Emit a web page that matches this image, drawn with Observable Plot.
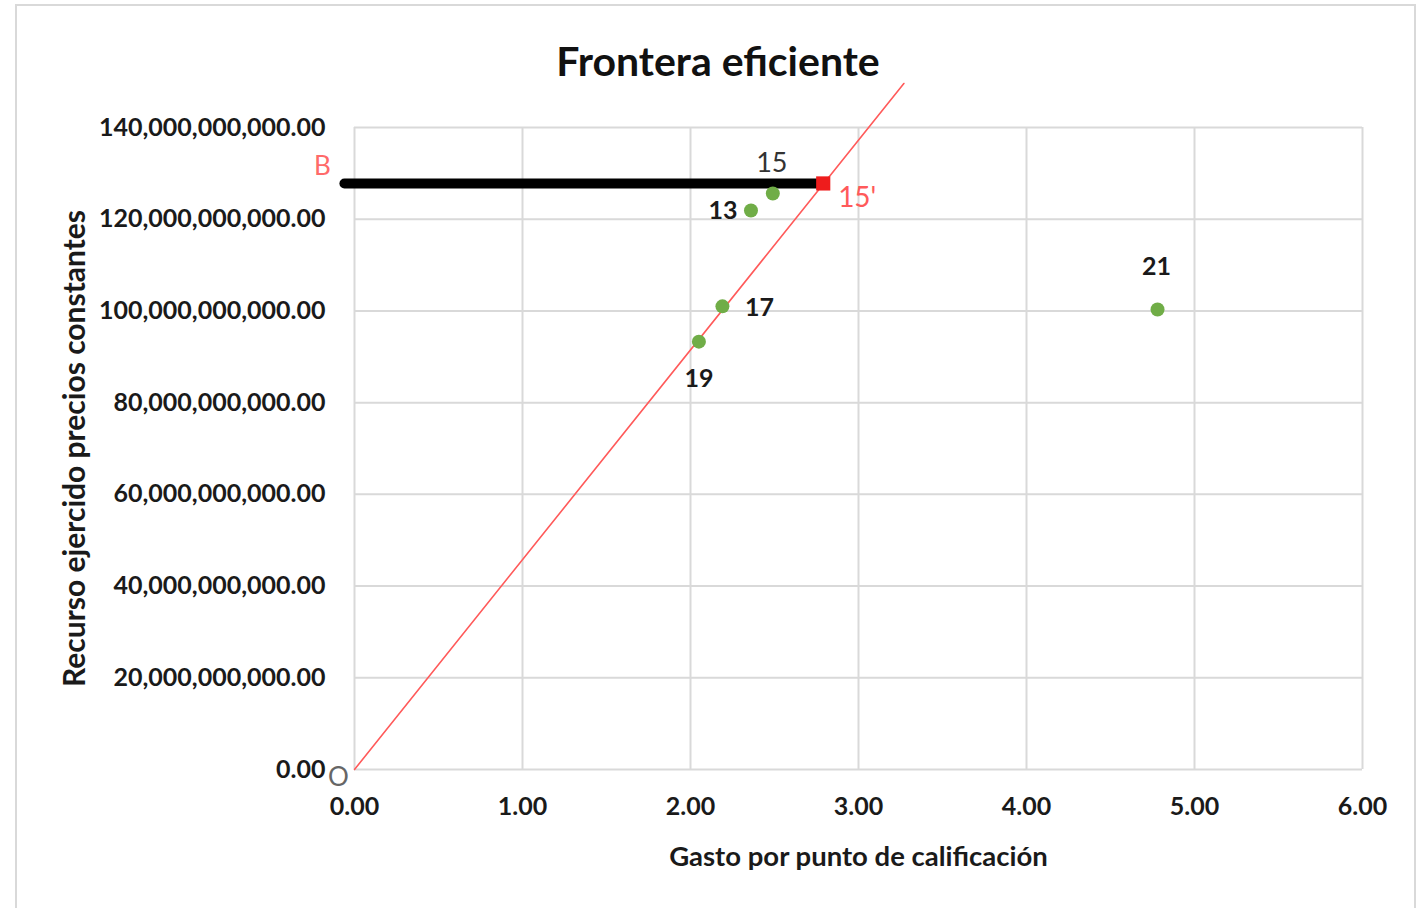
<!DOCTYPE html>
<html>
<head>
<meta charset="utf-8">
<script src="https://cdn.jsdelivr.net/npm/d3@7"></script>
<script src="https://cdn.jsdelivr.net/npm/@observablehq/plot@0.6"></script>
<style>
  html, body { margin: 0; padding: 0; background: #fff; }
  #wrap { position: relative; width: 1421px; height: 908px; overflow: hidden; font-family: Lato, "Open Sans", sans-serif; }
  #border { position: absolute; left: 15px; top: 4px; width: 1401px; height: 920px; border: 2px solid #d9d9d9; box-sizing: border-box; }
  #title { position: absolute; left: 0; width: 1436px; top: 40px; text-align: center; font-size: 41px; font-weight: bold; color: #111; line-height: 1; }
  #chart { position: absolute; left: 0; top: 0; }
  svg { overflow: visible; }
</style>
</head>
<body>
<div id="wrap">
  <div id="border"></div>
  <div id="chart"></div>
  <div id="title">Frontera eficiente</div>
</div>
<script>
// Data
const labels = ["15", "13", "17", "19", "21"];
const gasto = [2.49, 2.36, 2.19, 2.05, 4.78];
const recurso = [125.6e9, 121.9e9, 101.0e9, 93.3e9, 100.3e9];

// Projected point 15' and segment B
const proyLabel = "15'";
const proyGasto = 2.79;
const proyRecurso = 127.8e9;
const bStartGasto = -0.06;

// Efficient frontier ray from origin
const fronteraGasto = [0, 3.27];
const fronteraRecurso = [0, 149.6e9];

const xTicks = [0, 1, 2, 3, 4, 5, 6];
const yTicks = [0, 20e9, 40e9, 60e9, 80e9, 100e9, 120e9, 140e9];

const xLabel = "Gasto por punto de calificación";
const yLabel = "Recurso ejercido precios constantes";

// Build tables
const puntos = labels.map((l, i) => ({label: l, x: gasto[i], y: recurso[i]}));
const frontera = fronteraGasto.map((x, i) => ({x, y: fronteraRecurso[i]}));
const segB = [{x: bStartGasto, y: proyRecurso}, {x: proyGasto, y: proyRecurso}];
const proy = [{x: proyGasto, y: proyRecurso, label: proyLabel}];

const labelStyle = {
  "15": {dx: -1, dy: -30, fill: "#333", fontWeight: "normal", fontSize: 27},
  "13": {dx: -28, dy: 0, fill: "#1a1a1a", fontWeight: "bold", fontSize: 25},
  "17": {dx: 37, dy: 2, fill: "#1a1a1a", fontWeight: "bold", fontSize: 25},
  "19": {dx: 0, dy: 37, fill: "#1a1a1a", fontWeight: "bold", fontSize: 25},
  "21": {dx: -1, dy: -43, fill: "#1a1a1a", fontWeight: "bold", fontSize: 25}
};

const fmtY = d3.format(",.2f");
const fmtX = d3.format(".2f");

const pointLabelMarks = labels.map(l =>
  Plot.text(puntos.filter(d => d.label === l), {x: "x", y: "y", text: "label", ...labelStyle[l]})
);

const chart = Plot.plot({
  width: 1421,
  height: 908,
  marginLeft: 354,
  marginRight: 59,
  marginTop: 127,
  marginBottom: 139,
  style: {fontFamily: "Lato, 'Open Sans', sans-serif", fontSize: "25px", color: "#1a1a1a", background: "transparent"},
  x: {domain: [0, 6]},
  y: {domain: [0, 140e9]},
  marks: [
    Plot.gridX(xTicks, {stroke: "#d9d9d9", strokeOpacity: 1, strokeWidth: 2}),
    Plot.gridY(yTicks, {stroke: "#d9d9d9", strokeOpacity: 1, strokeWidth: 2}),
    Plot.axisX(xTicks, {tickSize: 0, tickPadding: 28, tickFormat: fmtX, fontWeight: "bold", label: null}),
    Plot.axisY(yTicks, {tickSize: 0, tickPadding: 29, tickFormat: fmtY, fontWeight: "bold", label: null}),
    Plot.text([xLabel], {frameAnchor: "bottom", textAnchor: "middle", text: d => d, dy: 96, fontSize: 27.5, fontWeight: "bold", fill: "#1a1a1a"}),
    Plot.text([yLabel], {frameAnchor: "left", textAnchor: "middle", text: d => d, dx: -279, rotate: -90, fontSize: 30, fontWeight: "bold", fill: "#1a1a1a"}),
    Plot.line(frontera, {x: "x", y: "y", stroke: "#ff5a5a", strokeWidth: 1.6, clip: false}),
    Plot.line(segB, {x: "x", y: "y", stroke: "#000", strokeWidth: 10, strokeLinecap: "round", clip: false}),
    Plot.dot(puntos, {x: "x", y: "y", r: 7, fill: "#70ad47"}),
    Plot.dot(proy, {x: "x", y: "y", symbol: "square", r: 8, fill: "#ee1c1c"}),
    ...pointLabelMarks,
    Plot.text(proy, {x: "x", y: "y", text: "label", fontSize: 28, fill: "#ff5a5a", dx: 34, dy: 15}),
    Plot.text(segB.slice(0, 1), {x: "x", y: "y", text: () => "B", fontSize: 26, fill: "#ff6a6a", dx: -22, dy: -17}),
    Plot.text([{x: 0, y: 0}], {x: "x", y: "y", text: () => "O", fontSize: 26, fill: "#666", dx: -16, dy: 8})
  ]
});
document.getElementById("chart").appendChild(chart);
</script>
</body>
</html>
